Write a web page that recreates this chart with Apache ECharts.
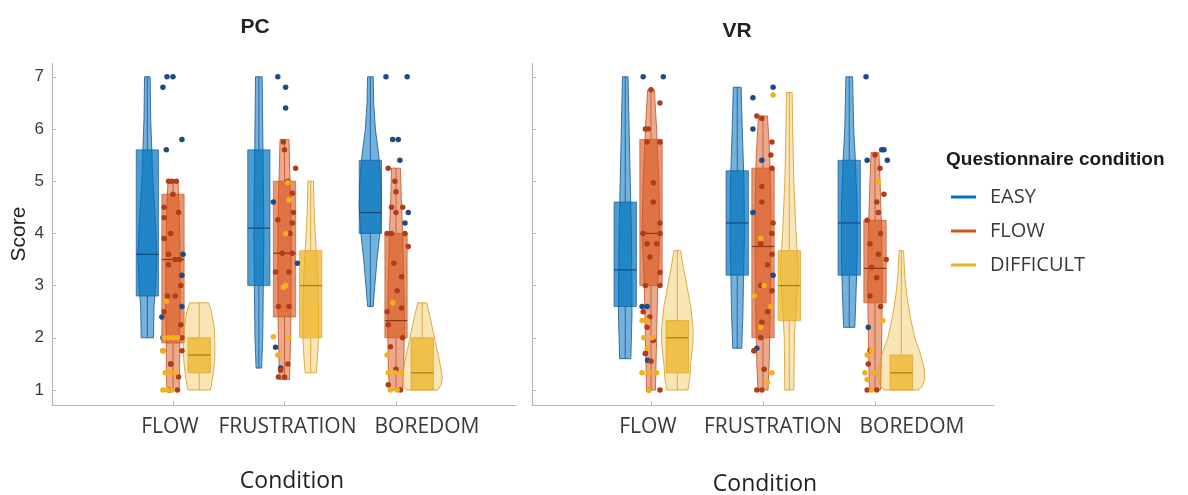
<!DOCTYPE html>
<html><head><meta charset="utf-8">
<script src="https://cdn.jsdelivr.net/npm/echarts@6/dist/echarts.min.js"></script>
<style>html,body{margin:0;padding:0;background:#fff}#c{width:1188px;height:495px}</style>
</head><body><div id="c"></div>
<script>
// ---------------- DATA ----------------
const categories = ['FLOW', 'FRUSTRATION', 'BOREDOM'];
const groups = ['EASY', 'FLOW', 'DIFFICULT'];
const yTicks = [1, 2, 3, 4, 5, 6, 7];
const xTicks = [1, 2, 3];

// box stats per category: [whiskerLow, q1, median, q3, whiskerHigh]
const pcEasyBox = [[2, 2.8, 3.6, 5.6, 7], [1.42, 3.0, 4.1, 5.6, 7], [2.6, 4.0, 4.4, 5.4, 7]];
const pcFlowBox = [[1, 1.9, 3.5, 4.75, 5], [1.2, 2.4, 3.62, 5.0, 5.8], [1, 2.0, 2.33, 4.0, 5.25]];
const pcDiffBox = [[1, 1.33, 1.67, 2.0, 2.67], [1.33, 2.0, 3.0, 3.67, 5.0], [1, 1.0, 1.33, 2.0, 2.67]];
const vrEasyBox = [[1.6, 2.6, 3.3, 4.6, 7], [1.8, 3.2, 4.2, 5.2, 6.8], [2.2, 3.2, 4.2, 5.4, 7]];
const vrFlowBox = [[1, 3.0, 4.0, 5.8, 6.75], [1, 2.0, 3.75, 5.25, 6.25], [1, 2.67, 3.33, 4.25, 5.55]];
const vrDiffBox = [[1, 1.33, 2.0, 2.33, 3.67], [1, 2.33, 3.0, 3.67, 6.7], [1, 1.0, 1.33, 1.67, 3.67]];

// violin profiles per category: [score, half width (x-axis units)]
const pcEasyViolin = [
  [[7,.025],[6.2,.03],[5.6,.04],[5,.05],[4.3,.07],[3.6,.085],[3,.075],[2.6,.06],[2,.055]],
  [[7,.03],[6,.035],[5,.04],[4,.045],[3,.04],[2,.035],[1.42,.025]],
  [[7,.025],[6.5,.03],[6,.045],[5.5,.075],[5,.095],[4.5,.1],[4,.085],[3.5,.06],[3,.04],[2.6,.025]]
];
const pcFlowViolin = [
  [[5,.045],[4.5,.055],[4,.06],[3.5,.065],[3,.065],[2.5,.065],[2,.06],[1.5,.06],[1,.055]],
  [[5.8,.04],[5,.05],[4,.06],[3,.06],[2,.055],[1.2,.045]],
  [[5.25,.04],[4.5,.05],[4,.06],[3,.07],[2.3,.075],[1.5,.07],[1,.06]]
];
const pcDiffViolin = [
  [[2.67,.085],[2.5,.11],[2.2,.135],[1.9,.14],[1.6,.14],[1.3,.125],[1.1,.11],[1,.1]],
  [[5,.025],[4.5,.03],[4,.04],[3.5,.055],[3,.065],[2.5,.07],[2,.07],[1.6,.06],[1.33,.05]],
  [[2.67,.04],[2.4,.07],[2.1,.1],[1.8,.13],[1.5,.16],[1.25,.18],[1.1,.17],[1,.14]]
];
const vrEasyViolin = [
  [[7,.025],[6,.035],[5,.045],[4,.055],[3,.06],[2.4,.06],[1.6,.05]],
  [[6.8,.035],[6,.045],[5,.06],[4,.065],[3,.055],[2.4,.05],[1.8,.04]],
  [[7,.03],[6,.04],[5.4,.055],[4.5,.07],[3.5,.07],[2.8,.06],[2.2,.05]]
];
const vrFlowViolin = [
  [[6.75,.03],[6,.05],[5,.07],[4,.08],[3,.06],[2,.05],[1,.04]],
  [[6.25,.04],[5.5,.06],[4.5,.07],[3.5,.07],[2.5,.065],[1.5,.055],[1,.045]],
  [[5.55,.035],[5,.045],[4,.06],[3,.065],[2,.06],[1,.05]]
];
const vrDiffViolin = [
  [[3.67,.03],[3.4,.05],[3,.085],[2.6,.12],[2.2,.14],[1.9,.14],[1.5,.12],[1.2,.11],[1,.095]],
  [[6.7,.025],[6,.03],[5,.04],[4,.06],[3.3,.08],[2.6,.06],[2,.045],[1,.04]],
  [[3.67,.02],[3.2,.03],[2.8,.05],[2.4,.08],[2,.12],[1.7,.17],[1.4,.205],[1.2,.21],[1.05,.18],[1,.15]]
];

// individual scores per category: [jitter (x-axis units), score]
const pcEasyPts = [
  [[-0.054,7],[0,7],[-0.09,6.8],[0.08,5.8],[-0.06,5.6],[0.09,3.6],[0.08,3.2],[0.08,2.6],[-0.1,2.4],[-0.09,2.0],[-0.02,1.5]],
  [[-0.06,7],[0.01,6.8],[0.01,6.4],[-0.1,4.6],[0.115,3.43],[-0.08,1.82],[-0.035,1.42]],
  [[-0.09,7],[0.1,7],[-0.03,5.8],[0.02,5.8],[0.035,5.4],[0.11,4.4],[0.08,4.2]]
];
const pcFlowPts = [
  [[-0.04,5],[-0.01,5],[0.03,5],[0,4.75],[-0.08,4.5],[0.05,4.4],[-0.08,4.3],[-0.02,4.0],[-0.08,3.9],[-0.04,3.6],[0.06,3.5],[0.02,3.5],[-0.04,3.4],[0.07,3.0],[-0.05,2.8],[0.02,2.8],[-0.08,2.5],[0.07,2.25],[0.08,2.0],[-0.09,1.75],[0.08,1.75],[-0.02,1.5],[0.05,1.25],[-0.03,1.0],[0.04,1.0]],
  [[-0.01,5.75],[0,5.6],[0.1,5.25],[0.03,5.0],[0.07,4.77],[0.08,4.4],[-0.06,4.26],[0.07,4.2],[0.05,4.0],[-0.02,3.62],[0.07,3.62],[-0.08,3.26],[0.04,3.26],[-0.055,2.6],[0.04,2.6],[0.03,1.5],[-0.035,1.38],[-0.055,1.25],[0,1.25]],
  [[-0.07,5.25],[-0.01,5.0],[0,4.8],[-0.04,4.5],[0.06,4.5],[0,4.4],[-0.08,4.0],[-0.04,4.0],[0.08,4.0],[0.11,3.75],[-0.02,3.43],[0.05,3.17],[0.01,2.9],[-0.08,2.5],[0.05,2.57],[-0.07,2.25],[0.06,2.0],[-0.05,1.83],[0,1.4],[-0.07,1.1],[0.04,1.0]]
];
const pcDiffPts = [
  [[-0.06,2.7],[-0.08,2.0],[-0.04,2.0],[0,2.0],[0.04,2.0],[-0.09,1.75],[-0.07,1.33],[-0.03,1.33],[0.02,1.33],[-0.09,1.0],[-0.05,1.0],[-0.01,1.0]],
  [[0.03,4.97],[0.04,4.64],[0.01,4.0],[-0.01,2.97],[0.01,3.0],[-0.1,2.02],[0.04,2.0],[-0.06,1.67]],
  [[-0.03,2.67],[-0.08,1.67],[-0.07,1.33],[-0.01,1.33],[0.05,1.33],[-0.05,1.0],[0.01,1.0]]
];
const vrEasyPts = [
  [[-0.07,7],[0.11,7],[-0.08,2.6],[-0.035,2.6],[-0.05,1.7],[-0.03,1.57]],
  [[-0.09,6.6],[0.09,6.8],[-0.09,6.0],[-0.01,5.4],[-0.09,4.4],[0.09,3.2],[-0.055,1.8],[-0.08,1.75]],
  [[-0.08,7],[0.06,5.6],[0.08,5.6],[-0.07,5.4],[0.11,5.4],[-0.06,2.2]]
];
const vrFlowPts = [
  [[0,6.75],[0.08,6.5],[-0.05,6.0],[-0.025,6.0],[-0.035,5.75],[0.08,5.75],[0.02,4.97],[0.02,4.6],[0.08,4.2],[0.08,4.0],[-0.07,4.0],[-0.035,3.8],[0.05,3.8],[-0.01,3.55],[0.08,3.25],[-0.05,3.0],[0.08,3.0],[-0.07,2.5],[-0.01,2.4],[-0.035,2.2],[0.02,1.95],[-0.05,1.7],[0,1.55],[0.08,1.0],[-0.02,1.0]],
  [[-0.055,6.25],[-0.01,6.2],[0.08,5.75],[0.07,5.5],[0.08,5.25],[-0.01,4.9],[-0.01,4.6],[0.09,4.2],[0.08,4.0],[-0.02,3.8],[0.08,3.6],[0.04,3.4],[-0.02,3.0],[0.08,2.9],[0.04,2.5],[-0.01,2.3],[-0.02,2.0],[-0.08,1.75],[0.01,1.4],[-0.055,1.0],[-0.01,1.0]],
  [[0,5.5],[0.045,5.25],[0.08,4.75],[0.015,4.6],[0.03,4.4],[-0.07,4.25],[0.05,4.0],[-0.045,3.8],[0.03,3.6],[0.1,3.5],[-0.03,3.35],[0.015,3.15],[-0.045,2.8],[0.05,2.6],[-0.045,1.75],[-0.06,1.5],[-0.07,1.0],[0.015,1.0]]
];
const vrDiffPts = [
  [[-0.08,2.33],[-0.035,2.33],[-0.065,2.0],[0.01,2.0],[-0.035,1.8],[-0.08,1.33],[-0.02,1.33],[0.05,1.33],[-0.02,1.0]],
  [[0.09,6.65],[-0.02,3.9],[0.01,3.0],[-0.08,2.8],[0.07,2.6],[-0.02,2.2],[0.08,1.33],[0.04,1.15]],
  [[0.03,5.0],[0.07,2.33],[-0.03,1.75],[-0.07,1.67],[-0.09,1.33],[-0.015,1.33],[-0.07,1.2],[-0.03,1.0]]
];

// ---------------- STYLE ----------------
const groupOffset = [-0.23, 0, 0.235];
const BOX_HW = 0.1;
const palette = [
  {line:'#0072BD', violin:'rgba(0,114,189,0.55)', edge:'rgba(20,85,150,0.8)', box:'rgba(0,114,189,0.7)', median:'#134a7c', dot:'#1d4b82'},
  {line:'#D95319', violin:'rgba(217,83,25,0.5)', edge:'rgba(190,75,30,0.75)', box:'rgba(217,83,25,0.62)', median:'#8c3512', dot:'#b03d1a'},
  {line:'#EDB120', violin:'rgba(237,177,32,0.33)', edge:'rgba(215,160,40,0.85)', box:'rgba(237,177,32,0.72)', median:'#a27c18', dot:'#f2b11c'}
];
const axisGray = '#b9b9b9';
const textGray = '#3a3a3a';

function makeRender(gIdx, violins) {
  const col = palette[gIdx];
  return function (params, api) {
    const i = params.dataIndex;
    const cx = api.value(0) + groupOffset[gIdx];
    const mn = api.value(1), q1 = api.value(2), md = api.value(3), q3 = api.value(4), mx = api.value(5);
    const c = (x, y) => api.coord([x, y]);
    const prof = violins[i];
    const right = prof.map(p => c(cx + p[1], p[0]));
    const left = prof.slice().reverse().map(p => c(cx - p[1], p[0]));
    const tl = c(cx - BOX_HW, q3), br = c(cx + BOX_HW, q1);
    const pTop = c(cx, mx), pQ3 = c(cx, q3), pQ1 = c(cx, q1), pBot = c(cx, mn);
    const mL = c(cx - BOX_HW, md), mR = c(cx + BOX_HW, md);
    return {
      type: 'group',
      children: [
        {type: 'polygon', shape: {points: right.concat(left)},
         style: {fill: col.violin, stroke: col.edge, lineWidth: 1, lineJoin: 'round'}},
        {type: 'line', shape: {x1: pTop[0], y1: pTop[1], x2: pQ3[0], y2: pQ3[1]},
         style: {stroke: col.edge, lineWidth: 1}},
        {type: 'line', shape: {x1: pQ1[0], y1: pQ1[1], x2: pBot[0], y2: pBot[1]},
         style: {stroke: col.edge, lineWidth: 1}},
        {type: 'rect', shape: {x: tl[0], y: tl[1], width: br[0] - tl[0], height: Math.max(br[1] - tl[1], 1)},
         style: {fill: col.box, stroke: col.edge, lineWidth: 0.8}},
        {type: 'line', shape: {x1: mL[0], y1: mL[1], x2: mR[0], y2: mR[1]},
         style: {stroke: col.median, lineWidth: 1.2}}
      ]
    };
  };
}

function violinSeries(panel, gIdx, boxes, violins) {
  return {
    type: 'custom', name: groups[gIdx], xAxisIndex: panel, yAxisIndex: panel,
    data: boxes.map((b, i) => [xTicks[i]].concat(b)),
    encode: {x: 0, y: [1, 2, 3, 4, 5]},
    renderItem: makeRender(gIdx, violins), z: 2 + gIdx, silent: true
  };
}
function pointSeries(panel, gIdx, pts) {
  const data = [];
  pts.forEach((list, i) => list.forEach(p => data.push([xTicks[i] + p[0], p[1]])));
  return {
    type: 'scatter', name: groups[gIdx], xAxisIndex: panel, yAxisIndex: panel,
    data: data, symbolSize: 5.5, z: 10,
    itemStyle: {color: palette[gIdx].dot, opacity: 1}, silent: true
  };
}

const labelShift = [[-3, 3, 31], [-3, 10, 37]];
function xAxisFor(panel, min, max) {
  const rich = {};
  labelShift[panel].forEach((s, i) => {
    rich['s' + i] = {fontFamily: 'Open Sans', fontSize: 21, color: textGray,
      padding: s >= 0 ? [0, 0, 0, 2 * s] : [0, -2 * s, 0, 0]};
  });
  return {
    type: 'value', gridIndex: panel, min: min, max: max,
    axisLine: {show: true, onZero: false, lineStyle: {color: axisGray, width: 1.2}},
    axisTick: {show: true, inside: true, length: 4, customValues: xTicks, lineStyle: {color: axisGray}},
    axisLabel: {show: true, customValues: xTicks, margin: 12,
      formatter: v => { const i = Math.round(v) - 1; return '{s' + i + '|' + categories[i] + '}'; },
      rich: rich},
    splitLine: {show: false}
  };
}
function yAxisFor(panel) {
  return {
    type: 'value', gridIndex: panel, min: 0.713, max: 7.264,
    axisLine: {show: true, onZero: false, lineStyle: {color: axisGray, width: 1.2}},
    axisTick: {show: true, inside: true, length: 4, customValues: yTicks, lineStyle: {color: axisGray}},
    axisLabel: {show: panel === 0, customValues: yTicks, margin: 8,
      fontFamily: 'Liberation Sans', fontSize: 17, color: textGray},
    splitLine: {show: false}
  };
}

const chart = echarts.init(document.getElementById('c'), null, {renderer: 'canvas'});
chart.setOption({
  animation: false,
  backgroundColor: '#ffffff',
  grid: [
    {left: 52, top: 63, width: 464, height: 342},
    {left: 532, top: 63, width: 462, height: 342}
  ],
  xAxis: [xAxisFor(0, -0.085, 4.076), xAxisFor(1, -0.0625, 4.0625)],
  yAxis: [yAxisFor(0), yAxisFor(1)],
  legend: {
    orient: 'vertical', left: 946, top: 181, icon: 'rect', itemWidth: 25, itemHeight: 3,
    itemGap: 12, selectedMode: false,
    textStyle: {fontFamily: 'Open Sans', fontSize: 20, color: textGray, padding: [0, 0, 0, 9], lineHeight: 22},
    data: groups.map((g, k) => ({name: g, itemStyle: {color: palette[k].line}}))
  },
  graphic: [
    {type: 'text', x: 255, y: 27, style: {text: 'PC', font: 'bold 21px "Liberation Sans"', fill: '#222', align: 'center', verticalAlign: 'middle'}},
    {type: 'text', x: 737, y: 31, style: {text: 'VR', font: 'bold 21px "Liberation Sans"', fill: '#222', align: 'center', verticalAlign: 'middle'}},
    {type: 'text', x: 292, y: 481, style: {text: 'Condition', font: '23px "Open Sans"', fill: '#222', align: 'center', verticalAlign: 'middle'}},
    {type: 'text', x: 765, y: 484, style: {text: 'Condition', font: '23px "Open Sans"', fill: '#222', align: 'center', verticalAlign: 'middle'}},
    {type: 'text', x: 19, y: 234, rotation: Math.PI / 2, style: {text: 'Score', font: '21px "Liberation Sans"', fill: '#222', align: 'center', verticalAlign: 'middle'}},
    {type: 'text', x: 946, y: 160, style: {text: 'Questionnaire condition', font: 'bold 19px "Liberation Sans"', fill: '#1a1a1a', align: 'left', verticalAlign: 'middle'}}
  ],
  series: [
    violinSeries(0, 0, pcEasyBox, pcEasyViolin),
    violinSeries(0, 1, pcFlowBox, pcFlowViolin),
    violinSeries(0, 2, pcDiffBox, pcDiffViolin),
    violinSeries(1, 0, vrEasyBox, vrEasyViolin),
    violinSeries(1, 1, vrFlowBox, vrFlowViolin),
    violinSeries(1, 2, vrDiffBox, vrDiffViolin),
    pointSeries(0, 0, pcEasyPts),
    pointSeries(0, 1, pcFlowPts),
    pointSeries(0, 2, pcDiffPts),
    pointSeries(1, 0, vrEasyPts),
    pointSeries(1, 1, vrFlowPts),
    pointSeries(1, 2, vrDiffPts)
  ]
});
</script>
</body></html>
